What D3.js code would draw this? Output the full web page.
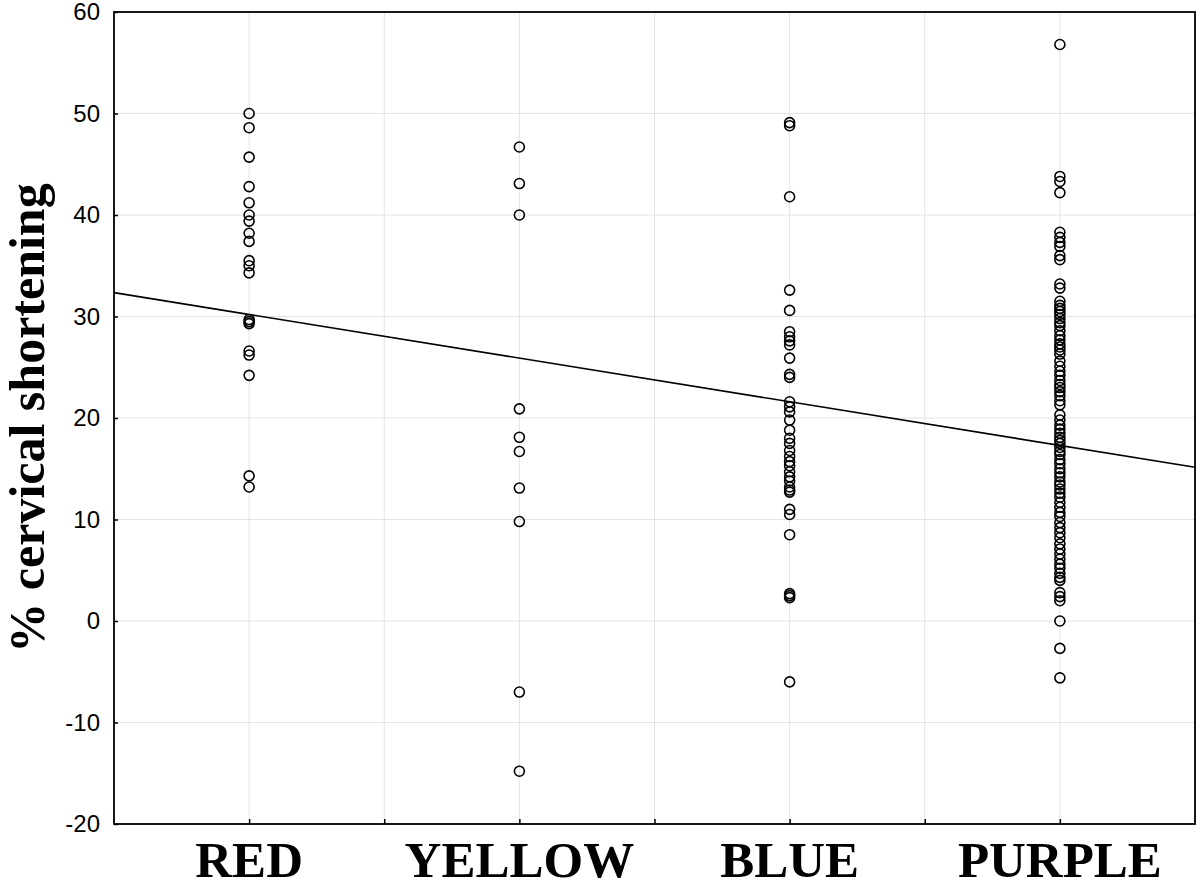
<!DOCTYPE html>
<html>
<head>
<meta charset="utf-8">
<script src="https://cdn.jsdelivr.net/npm/d3@7"></script>
<style>
  html, body { margin: 0; padding: 0; background: #fff; }
  svg { display: block; }
  .tick-label { font-family: "Liberation Sans", Arial, sans-serif; font-size: 24px; fill: #000; }
  .cat-label { font-family: "Liberation Serif", "Times New Roman", serif; font-weight: bold; font-size: 51px; fill: #000; }
  .y-title { font-family: "Liberation Serif", "Times New Roman", serif; font-weight: bold; font-size: 50px; fill: #000; }
</style>
</head>
<body>
<svg id="chart" width="1200" height="887"></svg>
<script>
// Scatter of % cervical shortening per colour group, with a linear fit.

const categories = ["RED", "YELLOW", "BLUE", "PURPLE"];

const redValues = [50.0, 48.6, 45.7, 42.8, 41.2, 40.0, 39.4, 38.2, 37.4, 35.5, 35.0, 34.3,
  29.7, 29.5, 29.3, 26.6, 26.2, 24.2, 14.3, 13.2];

const yellowValues = [46.7, 43.1, 40.0, 20.9, 18.1, 16.7, 13.1, 9.8, -7.0, -14.8];

const blueValues = [49.1, 48.8, 41.8, 32.6, 30.6, 28.5, 28.0, 27.6, 27.2, 25.9, 24.3, 24.0,
  21.6, 21.1, 20.6, 19.8, 18.8, 18.0, 17.5, 16.8, 16.2, 15.7, 15.3, 14.7, 14.2, 13.8,
  13.2, 12.9, 12.7, 11.0, 10.5, 8.5, 2.7, 2.5, 2.3, -6.0];

const purpleValues = [56.8, 43.8, 43.3, 42.2, 38.3, 37.8, 37.3, 36.9, 36.0, 35.6, 33.2, 32.8,
  31.5, 31.1, 30.8, 30.5, 30.2, 29.8, 29.4, 29.1, 28.6, 28.1, 27.7, 27.3, 27.0, 26.7,
  26.3, 25.6, 25.1, 24.6, 24.2, 23.7, 23.3, 23.0, 22.6, 22.2, 21.7, 21.3, 20.3, 19.8,
  19.3, 18.9, 18.5, 18.1, 17.8, 17.5, 17.1, 16.7, 16.4, 15.9, 15.5, 15.0, 14.6, 14.2,
  13.7, 13.4, 13.0, 12.6, 12.2, 11.7, 11.2, 10.7, 10.3, 9.7, 9.2, 8.7, 8.2, 7.6, 7.1,
  6.6, 6.1, 5.6, 5.2, 4.7, 4.3, 4.0, 2.8, 2.4, 2.0, 0.0, -2.7, -5.6];

const groupValues = [redValues, yellowValues, blueValues, purpleValues];

const yTicks = [-20, -10, 0, 10, 20, 30, 40, 50, 60];
const xGridTicks = [1, 1.5, 2, 2.5, 3, 3.5, 4];

// fitted line: value = fitIntercept + fitSlope * categoryIndex (1-based)
const fitIntercept = 34.5;
const fitSlope = -4.3;

const margin = { left: 114, right: 5, top: 12, bottom: 63 };
const width = 1200, height = 887;

const svg = d3.select("#chart");

const x = d3.scaleLinear().domain([0.5, 4.5]).range([margin.left, width - margin.right]);
const y = d3.scaleLinear().domain([-20, 60]).range([height - margin.bottom, margin.top]);

const [x0, x1] = x.range();
const [y0, y1] = y.range();

// grid
const grid = svg.append("g").attr("stroke", "#e3e3e3").attr("stroke-width", 1);
grid.selectAll("line.h").data(yTicks.slice(1, -1)).join("line")
  .attr("x1", x0).attr("x2", x1)
  .attr("y1", d => y(d)).attr("y2", d => y(d));
grid.selectAll("line.v").data(xGridTicks).join("line")
  .attr("x1", d => x(d)).attr("x2", d => x(d))
  .attr("y1", y0).attr("y2", y1);

// points
const points = groupValues.flatMap((vals, i) => vals.map(v => ({ cat: i + 1, v })));
svg.append("g").selectAll("circle").data(points).join("circle")
  .attr("cx", d => x(d.cat))
  .attr("cy", d => y(d.v))
  .attr("r", 5)
  .attr("fill", "none")
  .attr("stroke", "#000")
  .attr("stroke-width", 1.6);

// regression line
const fitX = x.domain();
svg.append("line")
  .attr("x1", x(fitX[0])).attr("y1", y(fitIntercept + fitSlope * fitX[0]))
  .attr("x2", x(fitX[1])).attr("y2", y(fitIntercept + fitSlope * fitX[1]))
  .attr("stroke", "#000").attr("stroke-width", 1.6);

// frame
svg.append("rect")
  .attr("x", x0).attr("y", y1)
  .attr("width", x1 - x0).attr("height", y0 - y1)
  .attr("fill", "none").attr("stroke", "#000").attr("stroke-width", 1.8);

// y axis: inward ticks + labels (plain hyphen minus like the original)
const yAxis = d3.axisLeft(y).tickValues(yTicks).tickFormat(d => String(d))
  .tickSizeInner(-4).tickSizeOuter(0).tickPadding(14);
svg.append("g").attr("transform", `translate(${x0},0)`).call(yAxis)
  .call(g => g.select(".domain").remove())
  .call(g => g.selectAll(".tick line").attr("stroke", "#000").attr("stroke-width", 1.5))
  .call(g => g.selectAll(".tick text").attr("class", "tick-label").attr("font-size", null).attr("font-family", null));

// x axis: inward ticks at grid positions
const xAxis = d3.axisBottom(x).tickValues(xGridTicks).tickSizeInner(-5).tickSizeOuter(0).tickFormat("");
svg.append("g").attr("transform", `translate(0,${y0})`).call(xAxis)
  .call(g => g.select(".domain").remove())
  .call(g => g.selectAll(".tick line").attr("stroke", "#000").attr("stroke-width", 1.5));

// category labels
svg.append("g").selectAll("text").data(categories).join("text")
  .attr("class", "cat-label")
  .attr("x", (d, i) => x(i + 1))
  .attr("y", 877)
  .attr("text-anchor", "middle")
  .text(d => d);

// y title
svg.append("text")
  .attr("class", "y-title")
  .attr("transform", `translate(44,${(y0 + y1) / 2}) rotate(-90)`)
  .attr("text-anchor", "middle")
  .text("% cervical shortening");
</script>
</body>
</html>
